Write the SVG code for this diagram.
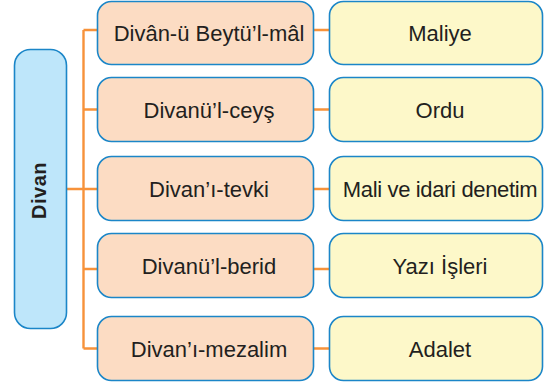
<svg xmlns="http://www.w3.org/2000/svg" width="544" height="384" viewBox="0 0 544 384">
<style>
.box{stroke:#1b86c8;stroke-width:1.6}
.root{fill:#bee6fa}
.mid{fill:#fcdcc3}
.leaf{fill:#fdf8c9}
.t{font-family:"Liberation Sans",Arial,sans-serif;font-size:22px;fill:#231f20;text-anchor:middle}
.rt{font-family:"Liberation Sans",Arial,sans-serif;font-size:20px;font-weight:bold;fill:#231f20;text-anchor:middle;letter-spacing:0.5px}
.c{stroke:#f7923a;stroke-width:2.4;fill:none}
</style>
<rect width="544" height="384" fill="#ffffff"/>
<g id="connectors">
<path class="c" d="M66 189H83.5M83.5 30V348.5M83.5 30H97.5M83.5 109.5H97.5M83.5 189H97.5M83.5 269H97.5M83.5 348.5H97.5"/>
<path class="c" d="M313.5 30H329.5M313.5 109.5H329.5M313.5 189H329.5M313.5 269H329.5M313.5 348.5H329.5"/>
</g>
<g id="divan">
<rect class="box root" x="14.5" y="49.5" width="52" height="279" rx="16"/>
<text class="rt" transform="translate(46 190.5) rotate(-90)">Divan</text>
</g>
<g id="beytulmal">
<rect class="box mid" x="97.5" y="1.5" width="216" height="63" rx="14"/>
<text class="t" x="209" y="41">Divân-ü Beytü’l-mâl</text>
</g>
<g id="ceys">
<rect class="box mid" x="97.5" y="77.5" width="216" height="64" rx="14"/>
<text class="t" x="209" y="117.5">Divanü’l-ceyş</text>
</g>
<g id="tevki">
<rect class="box mid" x="97.5" y="156.5" width="216" height="64" rx="14"/>
<text class="t" x="209" y="196.5">Divan’ı-tevki</text>
</g>
<g id="berid">
<rect class="box mid" x="97.5" y="233.5" width="216" height="64" rx="14"/>
<text class="t" x="209" y="273.5">Divanü’l-berid</text>
</g>
<g id="mezalim">
<rect class="box mid" x="97.5" y="316.5" width="216" height="64" rx="14"/>
<text class="t" x="209" y="356.5">Divan’ı-mezalim</text>
</g>
<g id="maliye">
<rect class="box leaf" x="329.5" y="1.5" width="213" height="63" rx="14"/>
<text class="t" x="440" y="41">Maliye</text>
</g>
<g id="ordu">
<rect class="box leaf" x="329.5" y="77.5" width="213" height="64" rx="14"/>
<text class="t" x="440" y="117.5">Ordu</text>
</g>
<g id="denetim">
<rect class="box leaf" x="329.5" y="156.5" width="213" height="64" rx="14"/>
<text class="t" x="440" y="196.5" style="letter-spacing:-0.35px">Mali ve idari denetim</text>
</g>
<g id="yazi">
<rect class="box leaf" x="329.5" y="233.5" width="213" height="64" rx="14"/>
<text class="t" x="440" y="273.5">Yazı İşleri</text>
</g>
<g id="adalet">
<rect class="box leaf" x="329.5" y="316.5" width="213" height="64" rx="14"/>
<text class="t" x="440" y="356.5">Adalet</text>
</g>
</svg>
